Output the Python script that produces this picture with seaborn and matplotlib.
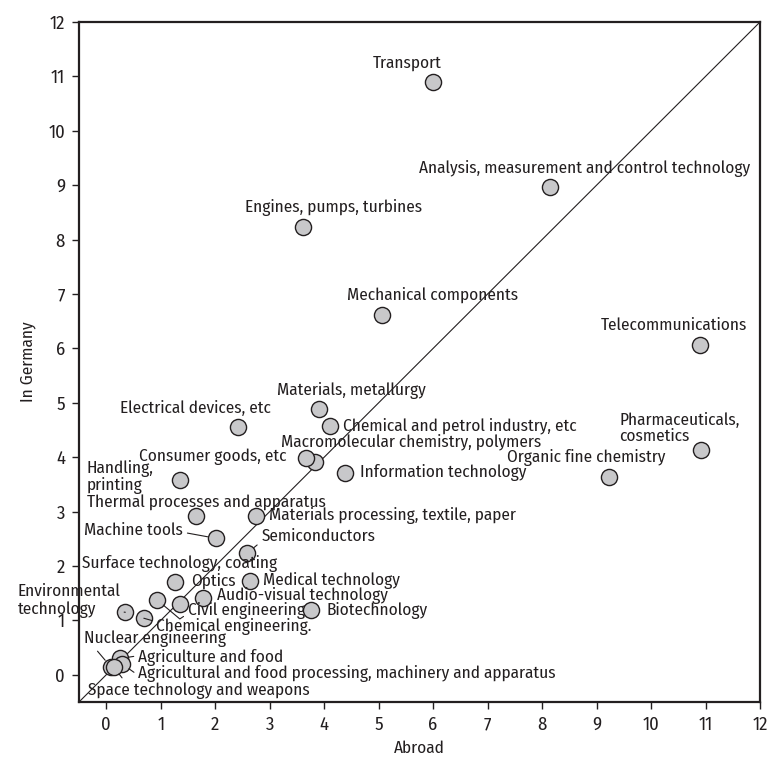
import matplotlib
matplotlib.use("Agg")
import matplotlib.pyplot as plt
import seaborn as sns
import pandas as pd

# patent fields: share abroad vs. share in Germany (%)
fields = [
    "Transport", "Analysis, measurement and control technology", "Engines, pumps, turbines",
    "Mechanical components", "Telecommunications", "Pharmaceuticals,\ncosmetics",
    "Organic fine chemistry", "Materials, metallurgy", "Electrical devices, etc",
    "Chemical and petrol industry, etc", "Macromolecular chemistry, polymers", "Consumer goods, etc",
    "Information technology", "Handling,\nprinting", "Thermal processes and apparatus",
    "Materials processing, textile, paper", "Machine tools", "Semiconductors",
    "Surface technology, coating", "Optics", "Medical technology",
    "Environmental\ntechnology", "Audio-visual technology", "Civil engineering",
    "Biotechnology", "Chemical engineering.", "Nuclear engineering",
    "Agriculture and food", "Agricultural and food processing, machinery and apparatus",
    "Space technology and weapons",
]
abroad = [
    5.99, 8.15, 3.62, 5.06, 10.89, 10.92, 9.22, 3.91, 2.41, 4.10, 3.83, 3.66, 4.39, 1.35, 1.65,
    2.74, 2.01, 2.59, 1.35, 1.26, 2.63, 0.35, 1.77, 0.93, 3.75, 0.69, 0.08, 0.25, 0.29, 0.14,
]
germany = [
    10.89, 8.96, 8.24, 6.62, 6.07, 4.14, 3.63, 4.88, 4.55, 4.57, 3.92, 3.98, 3.71, 3.59, 2.92,
    2.92, 2.51, 2.24, 1.30, 1.70, 1.73, 1.15, 1.42, 1.38, 1.19, 1.04, 0.15, 0.30, 0.20, 0.14,
]
ticks = list(range(0, 13))

df = pd.DataFrame({"field": fields, "Abroad": abroad, "In Germany": germany})

# label placement: (left x, centre y) in data units, plus leader attachment (relpos) if any
label_pos = {
    "Transport": (4.90, 11.25, None),
    "Analysis, measurement and control technology": (5.74, 9.31, None),
    "Engines, pumps, turbines": (2.54, 8.59, None),
    "Mechanical components": (4.42, 6.98, None),
    "Telecommunications": (9.08, 6.43, None),
    "Pharmaceuticals,\ncosmetics": (9.42, 4.53, None),
    "Organic fine chemistry": (7.36, 4.00, None),
    "Materials, metallurgy": (3.14, 5.23, None),
    "Electrical devices, etc": (0.26, 4.89, None),
    "Chemical and petrol industry, etc": (4.35, 4.57, None),
    "Macromolecular chemistry, polymers": (3.20, 4.29, None),
    "Consumer goods, etc": (0.60, 4.00, None),
    "Information technology": (4.65, 3.71, None),
    "Handling,\nprinting": (-0.36, 3.63, None),
    "Thermal processes and apparatus": (-0.36, 3.16, None),
    "Materials processing, textile, paper": (2.98, 2.93, None),
    "Machine tools": (-0.41, 2.65, (1.0, 0.4)),
    "Semiconductors": (2.85, 2.54, (0.0, 0.2)),
    "Surface technology, coating": (-0.45, 2.04, None),
    "Optics": (1.56, 1.73, None),
    "Medical technology": (2.87, 1.73, None),
    "Environmental\ntechnology": (-1.62, 1.36, (0.75, 0.25)),
    "Audio-visual technology": (2.04, 1.45, None),
    "Civil engineering": (1.50, 1.19, (0.0, 0.3)),
    "Biotechnology": (4.04, 1.19, None),
    "Chemical engineering.": (0.92, 0.88, (0.0, 0.8)),
    "Nuclear engineering": (-0.41, 0.67, (0.07, 0.0)),
    "Agriculture and food": (0.59, 0.32, (0.0, 0.6)),
    "Agricultural and food processing, machinery and apparatus": (0.59, 0.02, (0.0, 0.4)),
    "Space technology and weapons": (-0.34, -0.29, (0.17, 1.0)),
}

sns.set_style("ticks")
plt.rcParams["font.family"] = ["Fira Sans Condensed", "PT Sans Narrow", "DejaVu Sans"]
ink = "#231f20"

fig = plt.figure(figsize=(7.81, 7.58), dpi=100)
ax = fig.add_axes([79 / 781, 56 / 758, 681 / 781, 680 / 758])

# size the label font so the longest top label spans ~333 px as in the original
probe = fig.text(0, 0, "Analysis, measurement and control technology", fontsize=12)
fig.canvas.draw()
fs = 12 * 333 / probe.get_window_extent().width
probe.remove()

ax.axline((0, 0), slope=1, color=ink, lw=0.8, zorder=1)
sns.scatterplot(data=df, x="Abroad", y="In Germany", s=135, color="#c8c8ca",
                edgecolor=ink, linewidth=1.0, zorder=3, ax=ax)

for name, xa, yg in zip(fields, abroad, germany):
    tx, ty, rel = label_pos[name]
    spacing = 1.15 if name.startswith("Environmental") else 1.0
    kw = dict(xy=(xa, yg), xytext=(tx, ty), textcoords="data", ha="left", va="center",
              fontsize=fs, color=ink, linespacing=spacing, annotation_clip=False, zorder=4)
    if rel is not None:
        conn = "angle,angleA=34,angleB=140,rad=0" if name == "Civil engineering" else "arc3"
        kw["arrowprops"] = dict(arrowstyle="-", color=ink, lw=0.8, relpos=rel,
                                shrinkA=1, shrinkB=6, connectionstyle=conn)
    ax.annotate(name, **kw)

ax.set_xlim(-0.5, 12)
ax.set_ylim(-0.5, 12)
ax.set_xticks(ticks)
ax.set_yticks(ticks)
ax.set_xlabel("Abroad", fontsize=fs, color=ink, labelpad=5)
ax.set_ylabel("In Germany", fontsize=fs, color=ink, labelpad=9)
ax.tick_params(axis="both", length=5, width=1, color=ink, labelsize=fs + 1, labelcolor=ink, pad=5)
for sp in ax.spines.values():
    sp.set_visible(True)
    sp.set_linewidth(1.6)
    sp.set_color(ink)

fig.savefig("out.png", dpi=100)
